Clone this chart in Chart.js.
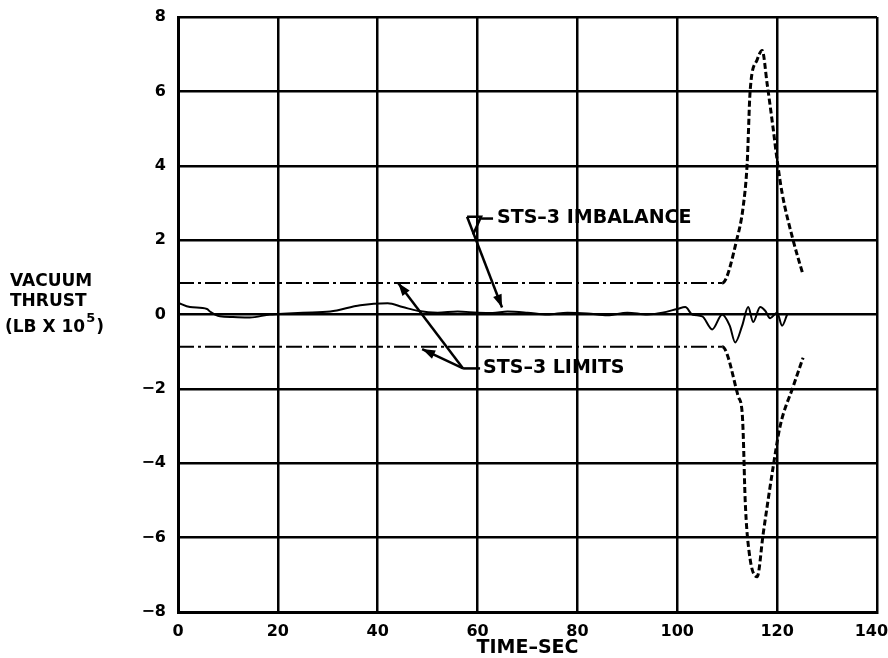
<!DOCTYPE html>
<html>
<head>
<meta charset="utf-8">
<script src="https://cdn.jsdelivr.net/npm/chart.js@4/dist/chart.umd.min.js"></script>
<style>
  html, body { margin: 0; padding: 0; background: #fff; }
  #wrap { width: 888px; height: 658px; }
</style>
</head>
<body>
<div id="wrap"><canvas id="thrustChart"></canvas></div>
<script>
// STS-3 vacuum thrust imbalance (lb x 10^5) vs time
const xTicks = [0, 20, 40, 60, 80, 100, 120, 140];
const yTicks = [-8, -6, -4, -2, 0, 2, 4, 6, 8];

const imbTime = [0, 2.4, 5.8, 6.4, 8.4, 11, 14.4, 18.4, 22, 25, 30.5, 36.5, 42, 45, 48, 52, 56, 60, 63, 66, 70, 74, 78, 82, 86, 90, 94, 97,
  100, 101.6, 103, 105, 107, 109, 110.5, 111.6, 113, 114.2, 115.2, 116.6, 117.6, 118.6, 120, 121, 122];
const imbalance = [0.32, 0.2, 0.15, 0.08, -0.05, -0.07, -0.08, 0, 0.03, 0.05, 0.08, 0.25, 0.3, 0.2, 0.1, 0.05, 0.08, 0.05, 0.04, 0.08, 0.05, 0, 0.05, 0.03, -0.02, 0.05, 0, 0.05,
  0.15, 0.2, 0, -0.05, -0.4, 0, -0.3, -0.75, -0.3, 0.2, -0.2, 0.2, 0.1, -0.1, 0.05, -0.3, 0];

const upTime = [0, 109, 112, 113.2, 114, 114.6, 116, 117, 118, 119.2, 120, 121, 123.2, 125.2];
const upperLimit = [0.85, 0.85, 2.06, 2.9, 4.07, 6.03, 6.85, 7.1, 6.2, 5.0, 4.15, 3.26, 2.0, 1.06];

const lowTime = [0, 109, 112.2, 113, 113.2, 113.6, 114.4, 116, 117.2, 119.2, 120.6, 123.2, 125.2];
const lowerLimit = [-0.87, -0.87, -2.2, -2.65, -3.2, -5.0, -6.4, -7.05, -5.9, -4.1, -3.0, -1.94, -1.16];

const limitStart = 109; // limits stay constant until here

function pts(xs, ys) {
  return xs.map((x, i) => ({ x: x, y: ys[i] }));
}

const limitSegment = {
  borderDash: ctx => ctx.p0.parsed.x < limitStart ? [16, 4, 3, 4] : [6, 3],
  borderWidth: ctx => ctx.p0.parsed.x < limitStart ? 2 : 3
};

const tickFont = { family: '"DejaVu Sans", sans-serif', weight: 'bold', size: 16 };
const BOLD = '"DejaVu Sans", sans-serif';

function arrow(ctx, x0, y0, x1, y1) {
  ctx.beginPath();
  ctx.moveTo(x0, y0);
  ctx.lineTo(x1, y1);
  ctx.stroke();
  const a = Math.atan2(y1 - y0, x1 - x0);
  const len = 13, w = 4.5;
  ctx.beginPath();
  ctx.moveTo(x1, y1);
  ctx.lineTo(x1 - len * Math.cos(a) + w * Math.sin(a), y1 - len * Math.sin(a) - w * Math.cos(a));
  ctx.lineTo(x1 - len * Math.cos(a) - w * Math.sin(a), y1 - len * Math.sin(a) + w * Math.cos(a));
  ctx.closePath();
  ctx.fill();
}

const notes = {
  id: 'notes',
  afterDatasetsDraw(chart) {
    const ctx = chart.ctx;
    const xs = chart.scales.x, ys = chart.scales.y;
    const px = v => xs.getPixelForValue(v);
    const py = v => ys.getPixelForValue(v);
    ctx.save();
    ctx.strokeStyle = '#000';
    ctx.fillStyle = '#000';
    ctx.lineWidth = 2.5;
    ctx.setLineDash([]);

    // imbalance callout
    ctx.beginPath();
    ctx.moveTo(px(57.9), py(2.63));
    ctx.lineTo(px(60.7), py(2.63));
    ctx.lineTo(px(59.1), py(2.15));
    ctx.stroke();
    ctx.beginPath();
    ctx.moveTo(px(60.7), py(2.58));
    ctx.lineTo(px(63.1), py(2.58));
    ctx.stroke();
    arrow(ctx, px(57.9), py(2.63), px(64.9), py(0.19));
    ctx.font = 'bold 19px ' + BOLD;
    ctx.textBaseline = 'middle';
    ctx.textAlign = 'left';
    ctx.fillText('STS–3 IMBALANCE', px(63.9), py(2.58));

    // limits callout
    arrow(ctx, px(57.1), py(-1.45), px(44.1), py(0.85));
    arrow(ctx, px(57.1), py(-1.45), px(48.9), py(-0.93));
    ctx.beginPath();
    ctx.moveTo(px(57.1), py(-1.45));
    ctx.lineTo(px(60.5), py(-1.45));
    ctx.stroke();
    ctx.fillText('STS–3 LIMITS', px(61.1), py(-1.45));

    // y axis title
    ctx.font = 'bold 17px ' + BOLD;
    ctx.fillText('VACUUM', 10, 282);
    ctx.fillText('THRUST', 10, 302);
    ctx.fillText('(LB X 10', 5, 328);
    const w = ctx.measureText('(LB X 10').width;
    ctx.font = 'bold 13px ' + BOLD;
    ctx.fillText('5', 5 + w + 1, 319);
    const w5 = ctx.measureText('5').width;
    ctx.font = 'bold 17px ' + BOLD;
    ctx.fillText(')', 5 + w + w5 + 2, 328);
    ctx.restore();
  }
};

new Chart(document.getElementById('thrustChart'), {
  type: 'line',
  data: {
    datasets: [
      {
        label: 'STS-3 Imbalance',
        data: pts(imbTime, imbalance),
        borderColor: '#000',
        borderWidth: 2,
        pointRadius: 0,
        cubicInterpolationMode: 'monotone'
      },
      {
        label: 'STS-3 Upper Limit',
        data: pts(upTime, upperLimit),
        borderColor: '#000',
        borderWidth: 2,
        pointRadius: 0,
        cubicInterpolationMode: 'monotone',
        segment: limitSegment
      },
      {
        label: 'STS-3 Lower Limit',
        data: pts(lowTime, lowerLimit),
        borderColor: '#000',
        borderWidth: 2,
        pointRadius: 0,
        cubicInterpolationMode: 'monotone',
        segment: limitSegment
      }
    ]
  },
  options: {
    responsive: true,
    maintainAspectRatio: false,
    animation: false,
    layout: { padding: { left: 0, right: 11, top: 17, bottom: 0 } },
    plugins: { legend: { display: false }, tooltip: { enabled: false } },
    scales: {
      x: {
        type: 'linear',
        min: 0,
        max: 140,
        afterBuildTicks: s => { s.ticks = xTicks.map(v => ({ value: v })); },
        afterFit: s => { s.height = 46; s.paddingLeft = 0; s.paddingRight = 0; },
        grid: { color: '#000', lineWidth: 2.5, drawTicks: false },
        border: { color: '#000', width: 3 },
        ticks: {
          color: '#000',
          font: tickFont,
          padding: 10,
          maxRotation: 0,
          callback: v => v === 140 ? '140  ' : String(v)
        },
        title: {
          display: true,
          text: 'TIME–SEC',
          color: '#000',
          font: { family: '"DejaVu Sans", sans-serif', weight: 'bold', size: 19, lineHeight: 1 },
          padding: { top: 0, bottom: 0 }
        }
      },
      y: {
        min: -8,
        max: 8,
        afterBuildTicks: s => { s.ticks = yTicks.map(v => ({ value: v })); },
        afterFit: s => { s.width = 178; s.paddingTop = 0; s.paddingBottom = 0; },
        grid: { color: '#000', lineWidth: 2.5, drawTicks: false },
        border: { color: '#000', width: 3 },
        ticks: {
          color: '#000',
          font: tickFont,
          padding: 12,
          callback: v => String(v).replace('-', '−')
        }
      }
    }
  },
  plugins: [notes]
});
</script>
</body>
</html>
